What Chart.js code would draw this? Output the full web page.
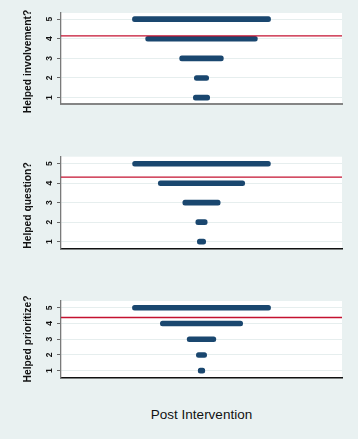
<!DOCTYPE html>
<html>
<head>
<meta charset="utf-8">
<script src="https://cdn.jsdelivr.net/npm/chart.js@4.4.1/dist/chart.umd.min.js"></script>
<style>
  body { margin: 0; width: 358px; height: 439px; overflow: hidden; position: relative;
         background: #e9f1f1; font-family: "Liberation Sans", Arial, sans-serif; }
  .painel { position: absolute; left: 0; }
  .painel canvas { display: block; }
  #titulo-x { position: absolute; left: 61px; width: 281px; top: 407px; text-align: center;
              font-size: 13.5px; color: #111; }
</style>
</head>
<body>
<div class="painel" style="top:0px"><canvas id="grafico1" width="358" height="120"></canvas></div>
<div class="painel" style="top:140px"><canvas id="grafico2" width="358" height="120"></canvas></div>
<div class="painel" style="top:280px"><canvas id="grafico3" width="358" height="110"></canvas></div>
<div id="titulo-x">Post Intervention</div>

<script>
// respostas (eixo y) e largura de cada barra (escala de -100 a 100)
const respostas = [1, 2, 3, 4, 5];
const larguraInvolvement = [11.6, 10.2, 31.1, 79.5, 98.3];
const larguraQuestion = [5.9, 8.1, 26.6, 61.5, 98.1];
const larguraPrioritize = [4.7, 7.3, 20.4, 58.6, 98.3];
const medias = [4.14, 4.31, 4.38];
const titulos = ['Helped involvement?', 'Helped question?', 'Helped prioritize?'];

const corBarra = '#1a476f';
const corLinha = '#c41230';

// fundo branco da area do grafico + rotulos girados (estilo Stata)
const rotulos = {
    id: 'rotulos',
    beforeDraw(chart) {
        const { ctx, chartArea: a } = chart;
        ctx.save();
        ctx.fillStyle = '#ffffff';
        ctx.fillRect(a.left, a.top, a.right - a.left, a.bottom - a.top);
        ctx.restore();
    },
    afterDraw(chart) {
        const { ctx, scales: { y } } = chart;
        const opts = chart.options.plugins.rotulos;
        ctx.save();
        ctx.fillStyle = '#111';
        ctx.textAlign = 'center';
        ctx.textBaseline = 'middle';
        ctx.font = 'bold 8.5px "Liberation Sans", Arial, sans-serif';
        y.ticks.forEach(t => {
            const py = y.getPixelForValue(t.value);
            ctx.save();
            ctx.translate(49.5, py);
            ctx.rotate(-Math.PI / 2);
            ctx.fillText(String(t.value), 0, 0);
            ctx.restore();
        });
        ctx.font = 'bold 10.3px "Liberation Sans", Arial, sans-serif';
        ctx.translate(28, opts.tituloY);
        ctx.rotate(-Math.PI / 2);
        ctx.fillText(opts.titulo, 0, 0);
        ctx.restore();
    }
};

function criarPainel(id, titulo, larguras, media, cfg) {
    const ctx = document.getElementById(id).getContext('2d');
    return new Chart(ctx, {
        type: 'bar',
        data: {
            datasets: [{
                type: 'line',
                indexAxis: 'x',
                data: [{ x: -100, y: media }, { x: 100, y: media }],
                borderColor: corLinha,
                borderWidth: 1.3,
                pointRadius: 0,
                order: 0
            }, {
                type: 'bar',
                data: larguras.map((w, i) => ({ x: [-w / 2, w / 2], y: respostas[i] })),
                backgroundColor: corBarra,
                barThickness: 5,
                borderRadius: 3,
                borderSkipped: false,
                order: 1
            }]
        },
        options: {
            indexAxis: 'y',
            responsive: false,
            animation: false,
            layout: { padding: { left: 57, right: 16, top: cfg.topo, bottom: cfg.base } },
            plugins: {
                legend: { display: false },
                tooltip: { enabled: false },
                rotulos: { titulo: titulo, tituloY: cfg.tituloY }
            },
            scales: {
                x: {
                    type: 'linear', min: -100, max: 100,
                    ticks: { display: false },
                    grid: { display: false, drawTicks: false },
                    border: { display: true, color: cfg.corBase, width: cfg.larguraBase }
                },
                y: {
                    type: 'linear', min: cfg.yMin, max: cfg.yMax, offset: false,
                    afterBuildTicks: s => { s.ticks = respostas.map(v => ({ value: v })); },
                    ticks: { display: false },
                    grid: { offset: false, color: '#e6eeee', lineWidth: 1, drawTicks: true, tickLength: 4, tickColor: '#666' },
                    border: { display: true, color: '#7a7a7a', width: 1.3 }
                }
            }
        },
        plugins: [rotulos]
    });
}

criarPainel('grafico1', titulos[0], larguraInvolvement, medias[0],
    { topo: 13, base: 16.3, yMin: 0.69, yMax: 5.31, tituloY: 61.5, corBase: '#858585', larguraBase: 2 });
criarPainel('grafico2', titulos[1], larguraQuestion, medias[1],
    { topo: 16.7, base: 11.7, yMin: 0.66, yMax: 5.36, tituloY: 65.5, corBase: '#111', larguraBase: 1.5 });
criarPainel('grafico3', titulos[2], larguraPrioritize, medias[2],
    { topo: 21, base: 12.7, yMin: 0.58, yMax: 5.43, tituloY: 59, corBase: '#111', larguraBase: 1.5 });
</script>
</body>
</html>
